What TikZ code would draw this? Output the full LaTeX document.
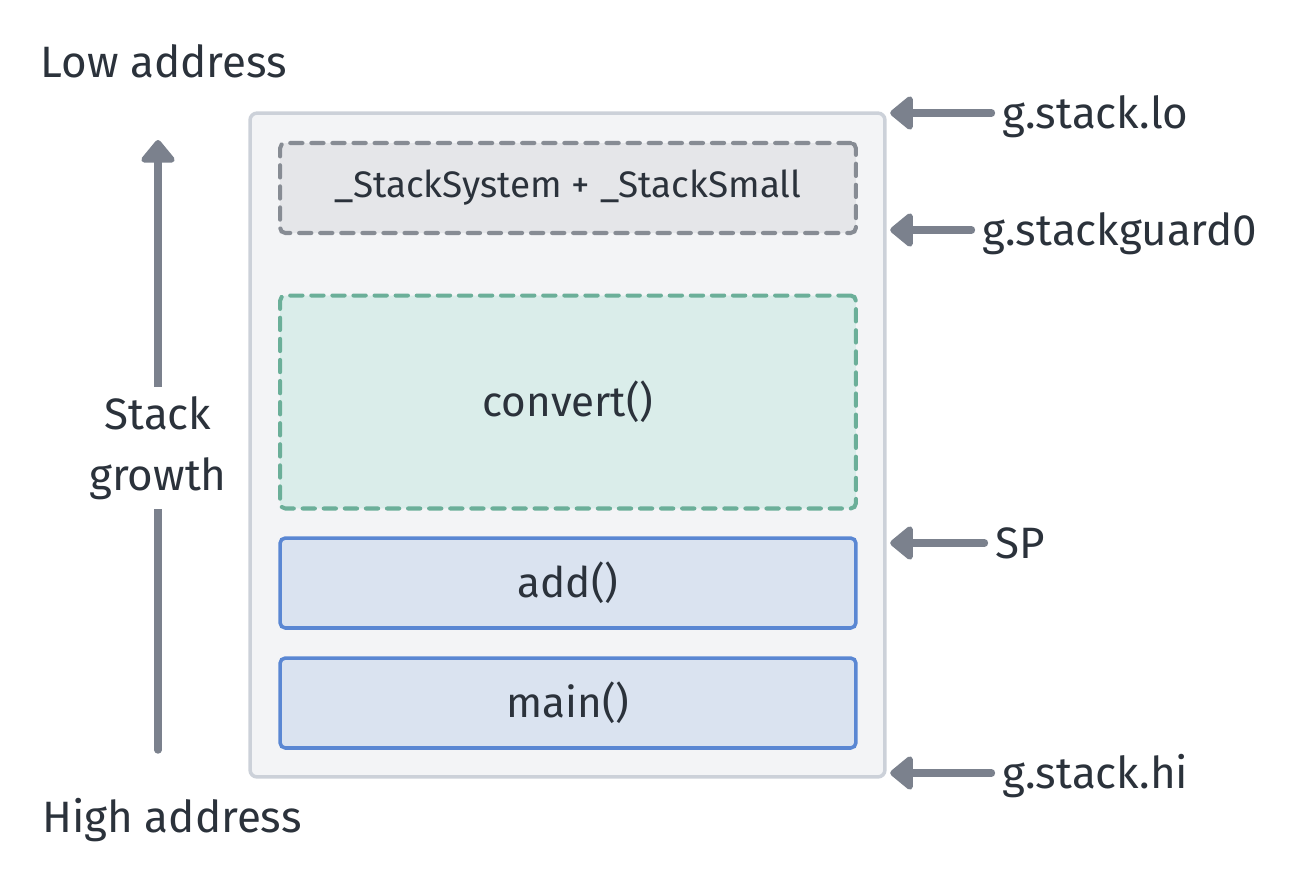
\documentclass[tikz,border=0pt]{standalone}
\usepackage{fontspec}
\setmainfont{Fira Sans}
\usepackage{xcolor}
\usepackage{tikz}
\usetikzlibrary{positioning,arrows.meta}

\definecolor{txt}{HTML}{2B323B}
\definecolor{stackfill}{HTML}{F3F4F6}
\definecolor{stackline}{HTML}{CCD1D9}
\definecolor{guardfill}{HTML}{E5E6E9}
\definecolor{guardline}{HTML}{878C94}
\definecolor{convfill}{HTML}{DAEDEA}
\definecolor{convline}{HTML}{6BAF99}
\definecolor{callfill}{HTML}{DAE3F0}
\definecolor{callline}{HTML}{5A87D3}
\definecolor{ptrgray}{HTML}{7B818D}

\tikzset{
  biglabel/.style={text=txt, inner sep=0pt, font=\fontsize{25}{35}\selectfont,
    text height=21pt, text depth=3pt},
  frame/.style={rectangle, rounded corners=3pt, line width=2pt, inner sep=0pt, outer sep=0pt,
    minimum width=11.52cm, text=txt, font=\fontsize{24}{29}\selectfont},
  guardbox/.style={frame, draw=guardline, fill=guardfill, dash pattern=on 7pt off 5pt,
    line width=2.3pt, line cap=round, minimum height=1.8cm, font=\fontsize{21}{25}\selectfont},
  convbox/.style={frame, draw=convline, fill=convfill, dash pattern=on 7pt off 5pt,
    line width=2.3pt, line cap=round, minimum height=4.26cm},
  callbox/.style={frame, draw=callline, fill=callfill, minimum height=1.8cm},
  ptr/.style={draw=ptrgray, line width=4.2pt, line cap=round,
    -{Triangle[round, length=14pt, width=22pt]}},
}

\begin{document}
\begin{tikzpicture}[x=0.02cm, y=-0.02cm]
  \useasboundingbox (0,0) rectangle (1296,894);

  % stack memory
  \node[rectangle, rounded corners=4pt, draw=stackline, fill=stackfill, line width=2pt,
    minimum width=12.7cm, minimum height=13.28cm, inner sep=0pt, outer sep=0pt]
    (stack) at (567.5,445) {};
  \node[guardbox] (guard) at (568,188) {\_StackSystem + \_StackSmall};
  \node[convbox] (convert) at (568,402) {convert()};
  \node[callbox] (add) at (568,583) {add()};
  \node[callbox] (main) at (568,703) {main()};

  % direction of growth
  \node[biglabel] (low) at (164,62) {Low address};
  \node[biglabel] (high) at (172,817) {High address};
  \coordinate (growbot) at (158,750);
  \coordinate (growtop) at (158,140);
  \draw[ptr] (growbot) -- (growtop);
  \node[biglabel, fill=white, align=center, inner sep=5pt, text height=, text depth=]
    (growth) at (158,448) {Stack\\growth};

  % pointers into the stack
  \node[biglabel, anchor=west] (lo) at (1002,113) {g.stack.lo};
  \node[biglabel, anchor=west] (guard0) at (982,230) {g.stackguard0};
  \node[biglabel, anchor=west] (sp) at (995,543) {SP};
  \node[biglabel, anchor=west] (hi) at (1002,773) {g.stack.hi};
  \foreach \lbl in {lo,guard0,sp,hi}
    \draw[ptr, shorten <=6pt, shorten >=3pt] (\lbl.west) -- (\lbl.west -| stack.east);
\end{tikzpicture}
\end{document}
